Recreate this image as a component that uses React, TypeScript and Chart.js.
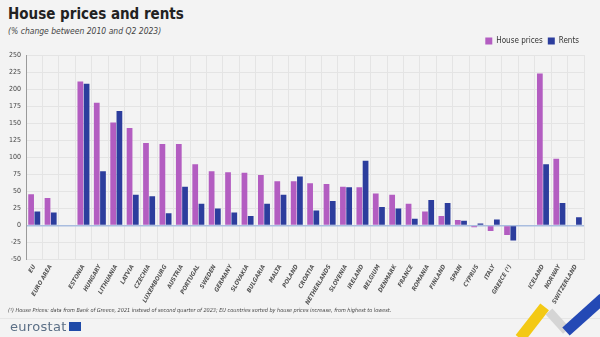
import React, { useEffect, useRef } from "react";
import { Chart, registerables } from "chart.js";

Chart.register(...registerables);

const categories: string[] = [
  "EU", "EURO AREA", "",
  "ESTONIA", "HUNGARY", "LITHUANIA", "LATVIA", "CZECHIA", "LUXEMBOURG", "AUSTRIA",
  "PORTUGAL", "SWEDEN", "GERMANY", "SLOVAKIA", "BULGARIA", "MALTA", "POLAND",
  "CROATIA", "NETHERLANDS", "SLOVENIA", "IRELAND", "BELGIUM", "DENMARK", "FRANCE",
  "ROMANIA", "FINLAND", "SPAIN", "CYPRUS", "ITALY", "GREECE (¹)", "",
  "ICELAND", "NORWAY", "SWITZERLAND",
];

const housePrices: (number | null)[] = [
  46, 40.5, null,
  211, 180, 151, 143, 121, 119.5, 119.5,
  90, 79.5, 78, 77.5, 74, 65, 65,
  62, 61, 57, 56, 47, 45, 32,
  20.5, 14, 8, -2.5, -8, -14, null,
  223, 98, null,
];

const rents: (number | null)[] = [
  20.5, 19, null,
  208, 79.5, 168, 45, 43, 18, 57,
  32, 25, 19, 14, 32, 45, 72,
  22, 36, 56, 95, 27, 25, 10,
  37.5, 33, 7, 3, 9, -22, null,
  90, 33, 12,
];

const yTicksMin = -50;
const yTicksMax = 250;
const yStep = 25;

const FONT = "'Liberation Sans Narrow', 'DejaVu Sans Condensed', 'Liberation Sans', sans-serif";

export default function App() {
  const canvasRef = useRef<HTMLCanvasElement | null>(null);

  useEffect(() => {
    document.body.style.margin = "0";
    const canvas = canvasRef.current;
    if (!canvas) return;
    const chart = new Chart(canvas, {
      type: "bar",
      data: {
        labels: categories,
        datasets: [
          {
            label: "House prices",
            data: housePrices,
            backgroundColor: "#b35dc1",
            borderWidth: 0,
            categoryPercentage: 0.76,
            barPercentage: 0.92,
          },
          {
            label: "Rents",
            data: rents,
            backgroundColor: "#2c3d9d",
            borderWidth: 0,
            categoryPercentage: 0.76,
            barPercentage: 0.92,
          },
        ],
      },
      options: {
        animation: false,
        responsive: false,
        maintainAspectRatio: false,
        layout: { padding: { left: 4, right: 16, top: 0, bottom: 0 } },
        plugins: {
          legend: {
            position: "top",
            align: "end",
            labels: {
              boxWidth: 7,
              boxHeight: 7,
              padding: 5,
              color: "#333",
              font: { family: FONT, size: 8 },
            },
          },
          tooltip: { enabled: false },
        },
        scales: {
          x: {
            grid: {
              color: "#e4e4e4",
              lineWidth: 1,
              drawTicks: false,
            },
            border: { display: false },
            ticks: {
              autoSkip: false,
              minRotation: 60,
              maxRotation: 60,
              padding: 4,
              color: "#555",
              font: { family: FONT, size: 6, style: "italic", weight: "bold" },
            },
          },
          y: {
            min: yTicksMin,
            max: yTicksMax,
            grid: {
              color: (ctx: any) => (ctx.tick && ctx.tick.value === 0 ? "#a9bddf" : "#e4e4e4"),
              lineWidth: (ctx: any) => (ctx.tick && ctx.tick.value === 0 ? 1.5 : 1),
              drawTicks: false,
            },
            border: { display: true, color: "#9a9a9a" },
            ticks: {
              stepSize: yStep,
              padding: 5,
              color: "#444",
              font: { family: FONT, size: 7 },
            },
          },
        },
      },
    });
    return () => chart.destroy();
  }, []);

  return (
    <div
      style={{
        position: "absolute",
        left: 0,
        top: 0,
        width: 600,
        height: 337,
        overflow: "hidden",
        background: "#f3f3f3",
        fontFamily: FONT,
      }}
    >
      <div style={{ position: "absolute", left: 8, top: 5, fontSize: 15, fontWeight: "bold", color: "#222" }}>
        House prices and rents
      </div>
      <div style={{ position: "absolute", left: 8, top: 26, fontSize: 8.5, fontStyle: "italic", color: "#444" }}>
        (% change between 2010 and Q2 2023)
      </div>
      <div style={{ position: "absolute", left: 0, top: 32, width: 600, height: 278 }}>
        <canvas ref={canvasRef} width={600} height={278} style={{ width: 600, height: 278 }} />
      </div>
      <div
        style={{
          position: "absolute",
          left: 8,
          top: 307,
          fontSize: 5.5,
          fontStyle: "italic",
          color: "#444",
          whiteSpace: "nowrap",
        }}
      >
        (¹) House Prices: data from Bank of Greece, 2021 instead of second quarter of 2023; EU countries sorted by house prices increase, from highest to lowest.
      </div>
      <div style={{ position: "absolute", left: 0, top: 318, width: 600, height: 1, background: "#e6e6e6" }} />
      <div
        style={{
          position: "absolute",
          left: 10,
          top: 319,
          fontFamily: "'DejaVu Sans', sans-serif",
          fontSize: 13,
          color: "#5b6f86",
          letterSpacing: 0.3,
          display: "flex",
          alignItems: "center",
        }}
      >
        eurostat
        <span style={{ display: "inline-block", width: 12, height: 9, background: "#1f4aa8", marginLeft: 2 }} />
      </div>
      <div
        style={{
          position: "absolute",
          left: 520,
          top: 333,
          width: 40,
          height: 11,
          background: "#f3c915",
          transform: "rotate(-52deg)",
          transformOrigin: "left center",
        }}
      />
      <div
        style={{
          position: "absolute",
          left: 549,
          top: 307,
          width: 26,
          height: 9,
          background: "#d5d5d5",
          transform: "rotate(48deg)",
          transformOrigin: "left center",
        }}
      />
      <div
        style={{
          position: "absolute",
          left: 566,
          top: 326,
          width: 50,
          height: 11,
          background: "#2449b5",
          transform: "rotate(-42deg)",
          transformOrigin: "left center",
        }}
      />
    </div>
  );
}
